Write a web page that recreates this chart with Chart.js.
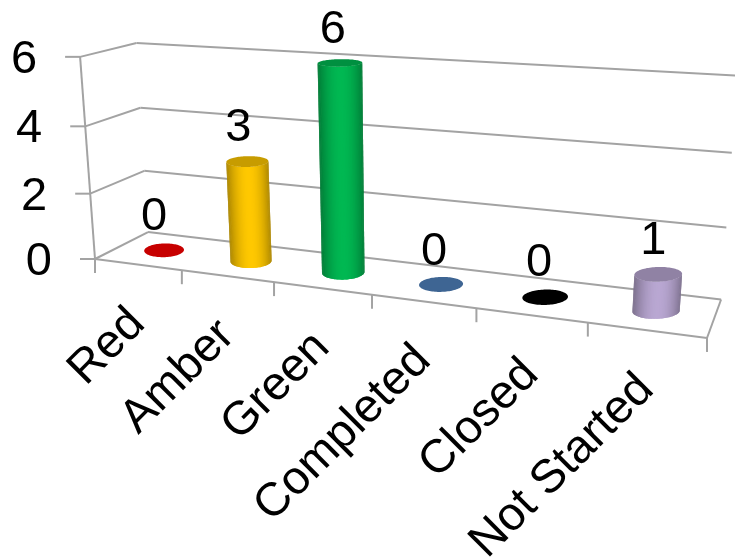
<!DOCTYPE html>
<html>
<head>
<meta charset="utf-8">
<style>
  html, body { margin: 0; background: #fff; overflow: hidden; }
  canvas { display: block; }
</style>
<script src="https://cdn.jsdelivr.net/npm/chart.js@4"></script>
</head>
<body>
<canvas id="statusChart" width="735" height="558"></canvas>
<script>
const categories = ['Red', 'Amber', 'Green', 'Completed', 'Closed', 'Not Started']
const counts = [0, 3, 6, 0, 0, 1]
const colors = ['#ff0000', '#ffc800', '#00b852', '#4f81bd', '#000000', '#b9a7d2']
const yTicks = [0, 2, 4, 6]

const FONT = '47px "Liberation Sans", Arial, sans-serif'
const AXIS_COLOR = '#a3a3a3'

// count labels sit a little off the cap centre, per column
const labelShift = [[-10, -33], [-9, -33], [-7, -33], [-7, -32], [-6, -34], [-5, -33]]

// Projects box coordinates to the page: u along the categories, v up, d into the depth
function project(u, v, d) {
  const w = 1 - 0.173 * u - 0.045 * v + 0.0722 * d
  return {
    x: (95 + 489.7 * u - 18.5 * v + 63.7 * d) / w,
    y: (259 + 20.5 * u - 204.7 * v - 10.2 * d) / w
  }
}

function line(ctx, a, b) {
  ctx.beginPath()
  ctx.moveTo(a.x, a.y)
  ctx.lineTo(b.x, b.y)
  ctx.stroke()
}

function shade(hex, f) {
  const n = parseInt(hex.slice(1), 16)
  const r = Math.round(((n >> 16) & 255) * f)
  const g = Math.round(((n >> 8) & 255) * f)
  const b = Math.round((n & 255) * f)
  return `rgb(${r},${g},${b})`
}

// column cross-section, kept close to level across the whole floor
function ring(u, v) {
  const ru = 0.0365 * (1 - 0.15 * u)
  const skew = -0.008 + 0.0175 * u
  const pts = []
  for (let i = 0; i < 96; i++) {
    const t = (i / 96) * Math.PI * 2
    const uu = u + ru * Math.cos(t) + skew * Math.sin(t)
    pts.push(project(uu, v, 0.5 + 0.22 * Math.sin(t)))
  }
  return pts
}

function drawCylinder(ctx, u, v, color) {
  const top = ring(u, v)
  if (v > 0) {
    const base = ring(u, 0)
    let iL = 0
    let iR = 0
    base.forEach((p, i) => {
      if (p.x < base[iL].x) iL = i
      if (p.x > base[iR].x) iR = i
    })
    const n = base.length
    // walk the front half of the wall, left silhouette to right silhouette
    const fwd = (iR - iL + n) % n
    const midF = base[(iL + Math.floor(fwd / 2)) % n]
    const step = midF.y > (base[iL].y + base[iR].y) / 2 ? 1 : -1
    const count = step === 1 ? fwd : n - fwd
    const span = base[iR].x - base[iL].x
    for (let k = 0; k < count; k++) {
      const i = (iL + step * k + n) % n
      // each strip runs two steps so the next one paints over its seam
      const j = (iL + step * Math.min(k + 2, count) + n) % n
      const s = (base[i].x - base[iL].x) / span
      const f = 0.66 + 0.34 * Math.pow(Math.sin(Math.PI * s), 0.8)
      ctx.fillStyle = shade(color, f)
      ctx.beginPath()
      ctx.moveTo(base[i].x, base[i].y)
      ctx.lineTo(base[(i + step + n) % n].x, base[(i + step + n) % n].y)
      ctx.lineTo(base[j].x, base[j].y)
      ctx.lineTo(top[j].x, top[j].y)
      ctx.lineTo(top[i].x, top[i].y)
      ctx.closePath()
      ctx.fill()
    }
  }
  ctx.fillStyle = shade(color, 0.78)
  ctx.beginPath()
  top.forEach((p, i) => (i ? ctx.lineTo(p.x, p.y) : ctx.moveTo(p.x, p.y)))
  ctx.closePath()
  ctx.fill()
}

const perspectiveBox = {
  id: 'perspectiveBox',
  beforeDatasetDraw(chart) {
    const { ctx, scales: { x, y } } = chart
    const level = val => (y.bottom - y.getPixelForValue(val)) / y.height
    ctx.save()
    ctx.strokeStyle = AXIS_COLOR
    ctx.lineWidth = 2

    // gridlines on the side wall and back wall, plus value ticks and labels
    ctx.font = FONT
    ctx.fillStyle = '#000'
    ctx.textAlign = 'right'
    ctx.textBaseline = 'middle'
    yTicks.forEach(t => {
      const v = level(t)
      const front = project(0, v, 0)
      const back = project(0, v, 1)
      line(ctx, front, back)
      line(ctx, back, project(1, v, 1))
      line(ctx, front, { x: front.x - 15, y: front.y })
      ctx.fillText(String(t), front.x - 43, front.y + 3)
    })

    // upright axis and the floor outline
    line(ctx, project(0, 0, 0), project(0, 1, 0))
    line(ctx, project(0, 0, 0), project(1, 0, 0))
    line(ctx, project(1, 0, 0), project(1, 0, 1))

    // category ticks under the front edge
    for (let i = 0; i <= categories.length; i++) {
      const p = project(i / categories.length, 0, 0)
      line(ctx, p, { x: p.x, y: p.y + 14 })
    }

    // slanted category labels
    ctx.textBaseline = 'alphabetic'
    categories.forEach((name, i) => {
      const u = (x.getPixelForValue(i) - x.left) / x.width
      const p = project(u, 0, 0)
      ctx.save()
      ctx.translate(p.x + 9, p.y + 61)
      ctx.rotate(-Math.PI / 4)
      ctx.fillText(name, 0, 0)
      ctx.restore()
    })
    ctx.restore()

    // columns use the bar elements' positions, run through the projection
    const bars = chart.getDatasetMeta(0).data
    ctx.save()
    bars.forEach((bar, i) => {
      const u = (bar.x - x.left) / x.width
      const v = (y.bottom - bar.y) / y.height
      drawCylinder(ctx, u, v, colors[i])
    })
    ctx.font = FONT
    ctx.fillStyle = '#000'
    ctx.textAlign = 'center'
    ctx.textBaseline = 'middle'
    bars.forEach((bar, i) => {
      const u = (bar.x - x.left) / x.width
      const v = (y.bottom - bar.y) / y.height
      const c = project(u, v, 0.5)
      ctx.fillText(String(counts[i]), c.x + labelShift[i][0], c.y + labelShift[i][1])
    })
    ctx.restore()
    return false
  }
}

new Chart(document.getElementById('statusChart'), {
  type: 'bar',
  data: {
    labels: categories,
    datasets: [{ data: counts, backgroundColor: colors }]
  },
  options: {
    responsive: false,
    animation: false,
    plugins: { legend: { display: false }, tooltip: { enabled: false } },
    scales: {
      x: { display: false },
      y: { display: false, min: 0, max: 6 }
    }
  },
  plugins: [perspectiveBox]
})
</script>
</body>
</html>
